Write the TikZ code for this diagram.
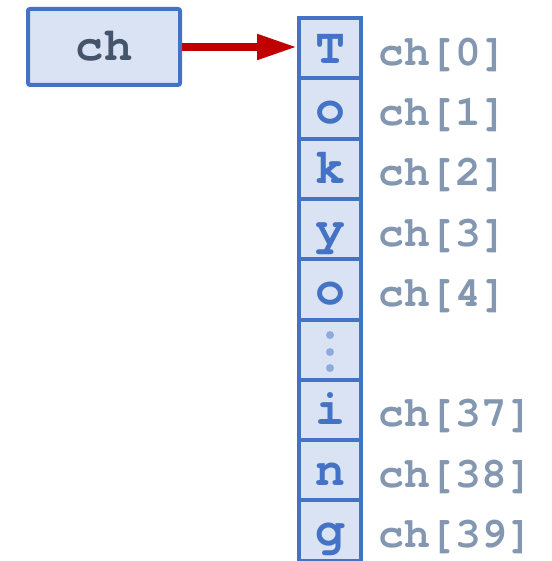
\documentclass[tikz,border=0pt]{standalone}
\usepackage{fontspec}
\newfontfamily\cour{TeX Gyre Cursor}
\usetikzlibrary{arrows.meta}
\definecolor{cellfill}{HTML}{DAE3F3}
\definecolor{cellline}{HTML}{4472C4}
\definecolor{lbl}{HTML}{8497B0}
\definecolor{boxtxt}{HTML}{44546A}
\definecolor{arrred}{HTML}{C00000}
\definecolor{dotc}{HTML}{8FAADC}
\begin{document}
\begin{tikzpicture}[x=1pt,y=-1pt,
  cell/.style={draw=cellline, fill=cellfill, line width=4pt, minimum width=62pt, minimum height=60.3pt, inner sep=0pt, text height=30pt, text depth=0pt, font=\cour\bfseries\fontsize{50}{50}\selectfont, text=cellline},
  ptrbox/.style={draw=cellline, fill=cellfill, line width=4pt, rounded corners=2pt, minimum width=152pt, minimum height=76pt, inner sep=0pt, text height=28pt, text depth=0pt, font=\cour\bfseries\fontsize{47}{47}\selectfont, text=boxtxt},
  idx/.style={anchor=base west, inner sep=0pt, font=\cour\bfseries\fontsize{43}{43}\selectfont, text=lbl},
  ptrarrow/.style={draw=arrred, line width=8pt, -{Triangle[length=40pt,width=24pt]}},
  dotstyle/.style={fill=dotc}]
\useasboundingbox (0,0) rectangle (551,561);
\clip (0,0) rectangle (551,561);
\node[ptrbox] (p) at (104,47) {ch};
\foreach \t [count=\i from 0] in {T,o,k,y,o,{},i,n,g} {
  \node[cell] (c\i) at (330, 48.15+60.3*\i) {\t};
}
\foreach \i/\l in {0/0,1/1,2/2,3/3,4/4,6/37,7/38,8/39} {
  \node[idx, yshift=-17pt] (l\i) at (378,0 |- c\i.center) {ch[\l]};
}
\fill[dotstyle] ([yshift=14.6pt]c5.center) circle[radius=4pt];
\fill[dotstyle] ([yshift=-2.4pt]c5.center) circle[radius=4pt];
\fill[dotstyle] ([yshift=-18.4pt]c5.center) circle[radius=4pt];
\draw[ptrarrow] (p.east) -- (p.east -| c0.west);
\end{tikzpicture}
\end{document}
